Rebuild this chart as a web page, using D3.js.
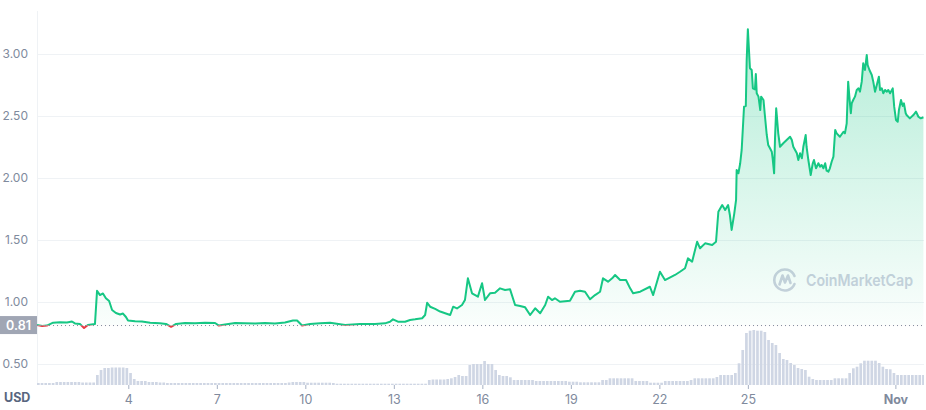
<!DOCTYPE html>
<html>
<head>
<meta charset="utf-8">
<script src="https://cdn.jsdelivr.net/npm/d3@7"></script>
<style>
  body { margin: 0; background: #fff; font-family: Inter, "Open Sans", sans-serif; }
</style>
</head>
<body>
<div id="chart"></div>
<script>
//====================== DATA ======================================================

// price (USD), day of month -> price
const priceDays = [
  0.905, 1.08, 1.24, 1.45, 1.68, 1.92, 2.09, 2.19, 2.36, 2.50, 2.63, 2.87, 2.94, 3.04, 3.14, 3.24,
  3.35, 3.45, 3.58, 3.72, 3.82, 3.92, 3.99, 4.23, 4.46, 4.74, 5.07, 5.28, 5.45, 5.62, 5.92, 6.26,
  6.60, 6.94, 7.07, 7.28, 7.62, 7.96, 8.30, 8.63, 8.97, 9.31, 9.58, 9.72, 9.89, 10.16, 10.50, 10.84,
  11.35, 11.85, 12.36, 12.70, 12.87, 12.97, 13.14, 13.38, 13.55, 13.72, 13.96, 14.06, 14.13, 14.23,
  14.40, 14.57, 14.74, 14.91, 15.01, 15.14, 15.31, 15.41, 15.51, 15.65, 15.85, 15.99, 16.09, 16.26,
  16.43, 16.60, 16.77, 16.94, 17.11, 17.28, 17.45, 17.62, 17.79, 17.96, 18.13, 18.23, 18.36, 18.46,
  18.63, 18.97, 19.14, 19.31, 19.48, 19.65, 19.82, 19.99, 20.09, 20.26, 20.40, 20.50, 20.67, 20.87,
  21.01, 21.11, 21.35, 21.68, 21.79, 22.02, 22.19, 22.53, 22.70, 22.87, 22.97, 23.11, 23.28, 23.38,
  23.55, 23.79, 23.92, 24.00, 24.13, 24.23, 24.33, 24.39, 24.45, 24.54, 24.60, 24.62, 24.68, 24.74,
  24.79, 24.87, 24.93, 24.96, 25.00, 25.07, 25.13, 25.17, 25.24, 25.27, 25.30, 25.36, 25.39, 25.42,
  25.45, 25.49, 25.53, 25.57, 25.64, 25.69, 25.75, 25.81, 25.84, 25.89, 25.92, 25.96, 25.98, 26.03,
  26.09, 26.20, 26.43, 26.49, 26.54, 26.66, 26.71, 26.77, 26.83, 26.88, 26.96, 26.99, 27.05, 27.13,
  27.20, 27.24, 27.31, 27.39, 27.45, 27.50, 27.56, 27.62, 27.67, 27.73, 27.78, 27.84, 27.90, 27.96,
  28.01, 28.12, 28.24, 28.29, 28.35, 28.40, 28.44, 28.49, 28.52, 28.57, 28.63, 28.69, 28.75, 28.80,
  28.86, 28.91, 28.97, 29.03, 29.06, 29.12, 29.20, 29.25, 29.31, 29.37, 29.44, 29.48, 29.54, 29.59,
  29.65, 29.71, 29.76, 29.82, 29.91, 29.96, 30.02, 30.08, 30.12, 30.19, 30.25, 30.29, 30.35, 30.38,
  30.49, 30.61, 30.70, 30.78, 30.86, 30.95
];

const priceUsd = [
  0.815, 0.806, 0.810, 0.833, 0.836, 0.835, 0.843, 0.827, 0.823, 0.790, 0.815, 0.823, 1.090, 1.056, 1.069, 1.030,
  1.008, 0.935, 0.911, 0.899, 0.907, 0.879, 0.851, 0.844, 0.843, 0.833, 0.828, 0.823, 0.800, 0.823, 0.831, 0.828,
  0.832, 0.831, 0.810, 0.819, 0.831, 0.828, 0.826, 0.831, 0.827, 0.835, 0.851, 0.851, 0.810, 0.823, 0.828, 0.833,
  0.815, 0.823, 0.823, 0.828, 0.841, 0.860, 0.841, 0.841, 0.855, 0.860, 0.869, 0.895, 0.994, 0.962,
  0.944, 0.923, 0.909, 0.895, 0.962, 0.948, 0.976, 1.016, 1.191, 1.070, 1.043, 1.151, 1.016, 1.070,
  1.075, 1.110, 1.097, 1.102, 0.976, 0.968, 0.957, 0.895, 0.949, 0.909, 0.976, 1.043, 1.016, 1.030,
  1.002, 1.010, 1.083, 1.091, 1.083, 1.022, 1.056, 1.083, 1.191, 1.164, 1.191, 1.218, 1.177, 1.177,
  1.110, 1.070, 1.083, 1.123, 1.056, 1.244, 1.177, 1.218, 1.244, 1.272, 1.352, 1.325, 1.486, 1.433,
  1.473, 1.460, 1.486, 1.728, 1.782, 1.742, 1.782, 1.702, 1.581, 1.715, 1.823, 2.065, 2.038, 2.119,
  2.226, 2.575, 2.581, 2.952, 3.199, 2.885, 2.871, 2.723, 2.715, 2.839, 2.683, 2.656, 2.602, 2.548,
  2.656, 2.643, 2.629, 2.522, 2.347, 2.266, 2.240, 2.212, 2.159, 2.038, 2.320, 2.562, 2.508, 2.360,
  2.252, 2.280, 2.333, 2.306, 2.252, 2.199, 2.145, 2.199, 2.159, 2.252, 2.347, 2.252, 2.145, 2.024,
  2.119, 2.145, 2.078, 2.119, 2.091, 2.105, 2.078, 2.119, 2.059, 2.051, 2.078, 2.131, 2.172, 2.387,
  2.360, 2.333, 2.373, 2.360, 2.441, 2.777, 2.656, 2.522, 2.602, 2.629, 2.656, 2.710, 2.723, 2.696,
  2.777, 2.925, 2.871, 2.992, 2.911, 2.871, 2.831, 2.777, 2.696, 2.750, 2.817, 2.710, 2.723, 2.683,
  2.710, 2.696, 2.710, 2.683, 2.723, 2.575, 2.468, 2.454, 2.548, 2.629, 2.581, 2.602, 2.522, 2.508,
  2.481, 2.508, 2.535, 2.494, 2.481, 2.490
];

// trading volume (M USD), one bar every 3 hours
const volStartDay = 0.905;
const volStepDay = 1 / 8;
const volume = [
  2, 2, 2, 2, 2, 3, 3, 3,
  3, 3, 3, 3, 2.5, 2.5, 2.5, 2.5,
  10, 15, 17, 17, 17.5, 17.5, 17.5, 17.5,
  17, 12, 6, 4, 4, 4, 3, 3,
  3, 2.5, 2.5, 2, 2, 2, 2, 2,
  2, 2, 2, 2, 2, 2, 2, 2,
  2, 2, 2, 2, 2, 2, 2, 2,
  2, 2, 2, 2, 2, 2, 2, 2,
  2, 2, 2, 2, 2.5, 3, 3, 3,
  3, 2.3, 2.3, 2.3, 2.3, 2.3, 2.3, 2.3,
  2, 1.3, 1.3, 1.3, 1.3, 1.3, 1.3, 1.3,
  1.3, 1.3, 1.3, 1.3, 1.3, 1.3, 1.3, 1.3,
  1.3, 1.3, 1.3, 1.3, 1.3, 1.3, 1.3, 1.3,
  1.3, 1.3, 5, 5.5, 5.5, 5.5, 5.5, 6,
  6.7, 8, 10, 9, 9, 20, 21, 21,
  21, 24, 21, 21, 15, 10, 9, 9,
  7.7, 5, 5, 5, 5, 5, 5, 4,
  4, 4, 4, 4, 4, 4, 4, 4,
  3.3, 3.3, 3.3, 2.7, 2.7, 2.7, 2.7, 2.7,
  2.7, 5, 5, 6.7, 6.7, 6.7, 6.7, 6.7,
  6.7, 6.7, 4, 4, 4, 4, 2.3, 2.3,
  2.3, 2.3, 4, 4, 4, 4, 4, 4,
  4, 5, 6.7, 6.7, 6.7, 6.7, 6.7, 6.7,
  8, 10, 10, 10, 10, 12, 21.7, 35,
  52, 54.3, 55, 54.3, 54.3, 53, 45, 42,
  40, 32, 26, 25, 22, 20, 17, 16,
  15, 8.3, 6, 5, 5, 5, 5, 5,
  6.7, 6.7, 6.7, 6.7, 12, 16.7, 18.3, 21.7,
  24.3, 24.3, 24.3, 24.3, 22, 18.3, 16, 15.7,
  12, 10, 10, 10, 10, 10, 10, 10,
  10
];

const openPrice = 0.81;
const yTicks = [0.5, 1, 1.5, 2, 2.5, 3];
const xTicks = [4, 7, 10, 13, 16, 19, 22, 25, 30];
const xTickLabels = ['4', '7', '10', '13', '16', '19', '22', '25', 'Nov'];

//====================== CHART =====================================================

const w = 926;
const h = 410;

const padLeft = 37;
const padRight = 924;
const padTop = 11;
const padBottom = 385;

const green = '#16c784';
const red = '#ea3943';

const svg = d3.select('#chart').append('svg')
  .attr('width', w)
  .attr('height', h);

const xScale = d3.scaleLinear()
  .domain([0.905, 30.97])
  .range([padLeft, padRight]);

const yScale = d3.scaleLinear()
  .domain([0.5, 3])
  .range([364, 54]);

const volScale = d3.scaleLinear()
  .domain([0, 60])
  .range([padBottom, padBottom - 60]);

const base = yScale(openPrice);

// gradients + clips

const defs = svg.append('defs');

const grad = defs.append('linearGradient')
  .attr('id', 'greenFill')
  .attr('gradientUnits', 'userSpaceOnUse')
  .attr('x1', 0).attr('x2', 0)
  .attr('y1', yScale(3.2)).attr('y2', base);
grad.append('stop').attr('offset', 0).attr('stop-color', green).attr('stop-opacity', 0.32);
grad.append('stop').attr('offset', 1).attr('stop-color', green).attr('stop-opacity', 0.02);

defs.append('clipPath').attr('id', 'clipUp')
  .append('rect').attr('x', padLeft).attr('y', 0).attr('width', padRight - padLeft).attr('height', base);

defs.append('clipPath').attr('id', 'clipDown')
  .append('rect').attr('x', padLeft).attr('y', base).attr('width', padRight - padLeft).attr('height', h - base);

// y grid + labels

const yAxisGen = d3.axisLeft(yScale)
  .tickValues(yTicks)
  .tickFormat(d3.format('.2f'))
  .tickSize(-(padRight - padLeft))
  .tickPadding(9);

const yAxis = svg.append('g')
  .attr('transform', 'translate(' + padLeft + ', 0)')
  .call(yAxisGen);

yAxis.select('.domain').remove();
yAxis.selectAll('line').attr('stroke', '#eff2f5');
yAxis.selectAll('text')
  .attr('fill', '#808a9d')
  .style('font-size', '12px')
  .style('font-family', 'Inter, sans-serif');

// left border line
svg.append('line')
  .attr('x1', padLeft + 0.5).attr('x2', padLeft + 0.5)
  .attr('y1', padTop).attr('y2', padBottom)
  .attr('stroke', '#eff2f5');

// volume bars

const barW = xScale(volStartDay + volStepDay) - xScale(volStartDay) - 1;

svg.append('g')
  .selectAll('rect')
  .data(volume)
  .enter()
  .append('rect')
  .attr('x', (d, i) => xScale(volStartDay + i * volStepDay))
  .attr('y', d => volScale(d))
  .attr('width', (d, i) => Math.max(0, Math.min(barW, padRight - xScale(volStartDay + i * volStepDay))))
  .attr('height', d => padBottom - volScale(d))
  .attr('fill', '#cfd6e4');

// watermark

const wm = svg.append('g')
  .attr('transform', 'translate(785, 280)')
  .attr('fill', 'none')
  .attr('stroke', '#cdd1df')
  .attr('stroke-width', 2.6)
  .attr('stroke-linecap', 'round')
  .attr('stroke-linejoin', 'round');

wm.append('path')
  .attr('d', 'M 9.5 -4 A 10.5 10.5 0 1 0 9.5 4');
wm.append('path')
  .attr('d', 'M -5.5 4.5 L -2.5 -4.5 L 0 2.5 L 3 -4.5 L 5.5 3');

svg.append('text')
  .attr('x', 806)
  .attr('y', 286)
  .attr('fill', '#cdd1df')
  .attr('textLength', 107)
  .attr('lengthAdjust', 'spacingAndGlyphs')
  .style('font-size', '16px')
  .style('font-weight', 600)
  .style('font-family', 'Inter, sans-serif')
  .text('CoinMarketCap');

// price area + line

const series = priceDays.map((d, i) => ({ day: d, price: priceUsd[i] }));

const area = d3.area()
  .x(d => xScale(d.day))
  .y0(base)
  .y1(d => yScale(d.price));

const line = d3.line()
  .x(d => xScale(d.day))
  .y(d => yScale(d.price));

svg.append('path')
  .attr('d', area(series))
  .attr('fill', 'url(#greenFill)')
  .attr('clip-path', 'url(#clipUp)');

svg.append('path')
  .attr('d', area(series))
  .attr('fill', red)
  .attr('fill-opacity', 0.08)
  .attr('clip-path', 'url(#clipDown)');

svg.append('path')
  .attr('d', line(series))
  .attr('fill', 'none')
  .attr('stroke', green)
  .attr('stroke-width', 2)
  .attr('stroke-linejoin', 'round')
  .attr('clip-path', 'url(#clipUp)');

svg.append('path')
  .attr('d', line(series))
  .attr('fill', 'none')
  .attr('stroke', red)
  .attr('stroke-width', 2)
  .attr('stroke-linejoin', 'round')
  .attr('clip-path', 'url(#clipDown)');

// dotted open price line

svg.append('line')
  .attr('x1', padLeft).attr('x2', padRight)
  .attr('y1', base).attr('y2', base)
  .attr('stroke', '#808a9d')
  .attr('stroke-width', 1)
  .attr('stroke-dasharray', '1 3');

// open price label

svg.append('rect')
  .attr('x', 0).attr('y', base - 9.5)
  .attr('width', padLeft).attr('height', 18)
  .attr('fill', '#a0a6b4');

svg.append('text')
  .attr('x', padLeft / 2)
  .attr('y', base)
  .attr('dy', '0.35em')
  .attr('text-anchor', 'middle')
  .attr('fill', '#fff')
  .style('font-size', '12.5px')
  .style('font-weight', 600)
  .style('font-family', 'Inter, sans-serif')
  .text(d3.format('.2f')(openPrice));

// x axis

const xAxisGen = d3.axisBottom(xScale)
  .tickValues(xTicks)
  .tickFormat((d, i) => xTickLabels[i])
  .tickSize(4)
  .tickPadding(6);

const xAxis = svg.append('g')
  .attr('transform', 'translate(0, ' + padBottom + ')')
  .call(xAxisGen);

xAxis.select('.domain').remove();
xAxis.selectAll('line').attr('stroke', '#a6b0c3');
xAxis.selectAll('text')
  .attr('fill', '#808a9d')
  .style('font-size', '12.5px')
  .style('font-family', 'Inter, sans-serif')
  .style('font-weight', (d, i) => xTickLabels[i] === 'Nov' ? 700 : 400);

svg.append('text')
  .attr('x', 4)
  .attr('y', 402)
  .attr('fill', '#58667e')
  .style('font-size', '12.5px')
  .style('font-weight', 700)
  .style('font-family', 'Inter, sans-serif')
  .text('USD');
</script>
</body>
</html>
